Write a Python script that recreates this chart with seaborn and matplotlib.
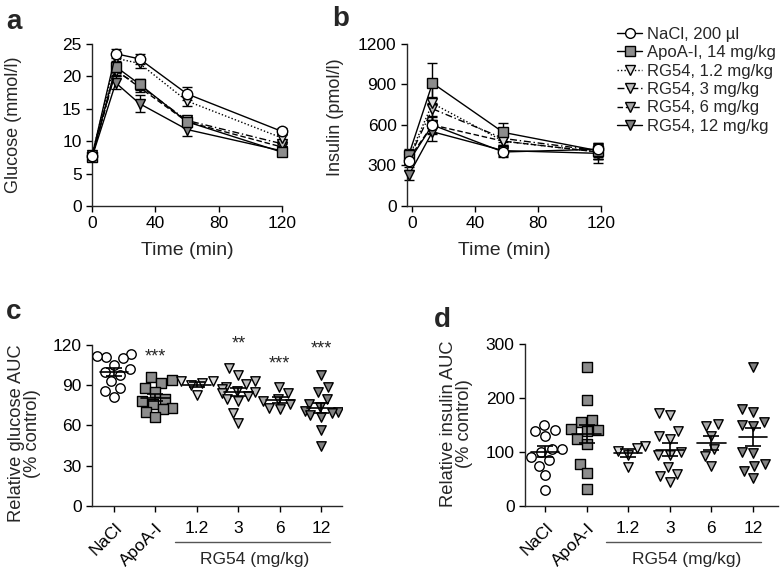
import numpy as np
import pandas as pd
import matplotlib
matplotlib.use("Agg")
import matplotlib.pyplot as plt
import matplotlib.transforms as mtransforms
import seaborn as sns

# --- panel a / b : time courses (mean, SEM) ---
series_names = ["NaCl, 200 µl", "ApoA-I, 14 mg/kg", "RG54, 1.2 mg/kg",
                "RG54, 3 mg/kg", "RG54, 6 mg/kg", "RG54, 12 mg/kg"]

glucose_time = [0, 15, 30, 60, 120]
glucose_nacl = [7.7, 23.5, 22.7, 17.3, 11.5]
glucose_apoa = [7.5, 21.5, 18.8, 13.0, 8.3]
glucose_rg1 = [7.8, 22.8, 22.0, 16.2, 10.5]
glucose_rg3 = [7.6, 20.8, 18.6, 13.2, 9.6]
glucose_rg6 = [7.6, 21.0, 18.3, 13.0, 9.1]
glucose_rg12 = [7.5, 19.0, 15.8, 11.8, 8.5]
glucose_sem_nacl = [0.4, 0.7, 0.8, 1.0, 0.5]
glucose_sem_apoa = [0.5, 0.9, 0.8, 0.8, 0.6]
glucose_sem_rg1 = [0.4, 0.8, 0.7, 0.7, 0.6]
glucose_sem_rg3 = [0.4, 0.8, 0.7, 0.6, 0.5]
glucose_sem_rg6 = [0.4, 0.8, 0.7, 0.6, 0.5]
glucose_sem_rg12 = [0.4, 1.0, 1.3, 1.0, 0.5]

insulin_time = [-2, 13, 58, 118]
insulin_nacl = [330, 600, 400, 420]
insulin_apoa = [380, 910, 545, 410]
insulin_rg1 = [360, 760, 480, 400]
insulin_rg3 = [350, 720, 500, 410]
insulin_rg6 = [350, 600, 480, 400]
insulin_rg12 = [230, 550, 410, 390]
insulin_sem_nacl = [40, 60, 40, 50]
insulin_sem_apoa = [40, 150, 70, 60]
insulin_sem_rg1 = [40, 120, 50, 50]
insulin_sem_rg3 = [40, 90, 50, 50]
insulin_sem_rg6 = [40, 70, 50, 50]
insulin_sem_rg12 = [40, 70, 40, 70]

# --- panel c / d : individual AUC values ---
groups = ["NaCl", "ApoA-I", "1.2", "3", "6", "12"]

gluc_auc_nacl = [113, 111, 112, 110, 105, 102, 100, 98, 93, 88, 86, 81]
gluc_auc_apoa = [96, 94, 92, 88, 85, 80, 78, 76, 73, 72, 70, 66]
gluc_auc_rg1 = [93, 92, 93, 90, 83]
gluc_auc_rg3 = [103, 98, 93, 91, 89, 87, 86, 85, 84, 82, 80, 78, 69, 62]
gluc_auc_rg6 = [89, 84, 80, 78, 76, 73, 72]
gluc_auc_rg12 = [98, 89, 85, 80, 76, 74, 71, 70, 69, 68, 66, 57, 45]

ins_auc_nacl = [150, 140, 138, 130, 105, 105, 100, 90, 85, 75, 58, 30]
ins_auc_apoa = [258, 197, 160, 155, 142, 140, 138, 125, 115, 78, 62, 32]
ins_auc_rg1 = [112, 108, 102, 95, 72]
ins_auc_rg3 = [172, 168, 138, 130, 125, 100, 95, 95, 72, 60, 55, 45]
ins_auc_rg6 = [152, 148, 130, 105, 92, 75]
ins_auc_rg12 = [258, 180, 175, 155, 150, 148, 100, 98, 78, 75, 65, 52]

gluc_stars = {"ApoA-I": ("***", 111), "3": ("**", 121), "6": ("***", 106), "12": ("***", 117)}

# styles
markers = ["o", "s", "v", "v", "v", "v"]
faces = ["white", "#8c8c8c", "#dcdcdc", "#bdbdbd", "#a6a6a6", "#808080"]
linestyles = ["-", "-", (0, (1, 1.5)), (0, (5, 2, 1, 2)), (0, (4, 2)), "-"]

sns.set_theme(style="ticks")
plt.rcParams["font.family"] = ["Liberation Sans", "DejaVu Sans"]
plt.rcParams["axes.linewidth"] = 1.0
plt.rcParams["xtick.major.width"] = 1.0
plt.rcParams["ytick.major.width"] = 1.0
plt.rcParams["xtick.major.size"] = 4.5
plt.rcParams["ytick.major.size"] = 4.5
plt.rcParams["xtick.color"] = "black"
plt.rcParams["ytick.color"] = "black"

fig = plt.figure(figsize=(7.81, 5.69), dpi=100)
ax_a = fig.add_axes([0.1178, 0.638, 0.2433, 0.2847])
ax_b = fig.add_axes([0.5211, 0.638, 0.2484, 0.2847])
ax_c = fig.add_axes([0.1178, 0.1107, 0.3201, 0.283])
ax_d = fig.add_axes([0.6722, 0.1107, 0.3239, 0.2847])


def time_panel(ax, t, means, sems):
    # draw in reverse so NaCl sits on top
    for i in reversed(range(len(means))):
        sns.lineplot(x=t, y=means[i], ax=ax, color="black", linewidth=1.0,
                     linestyle=linestyles[i], marker=markers[i], markersize=7.5,
                     markerfacecolor=faces[i], markeredgecolor="black",
                     markeredgewidth=1.0, zorder=3 + (len(means) - i))
        ax.errorbar(t, means[i], yerr=sems[i], fmt="none", ecolor="black",
                    elinewidth=1.0, capsize=3.5, capthick=1.0, zorder=2)
    for ln in ax.lines:
        ln.set_clip_on(False)
    sns.despine(ax=ax)
    ax.tick_params(labelsize=12.5, pad=3)


time_panel(ax_a, glucose_time,
           [glucose_nacl, glucose_apoa, glucose_rg1, glucose_rg3, glucose_rg6, glucose_rg12],
           [glucose_sem_nacl, glucose_sem_apoa, glucose_sem_rg1, glucose_sem_rg3,
            glucose_sem_rg6, glucose_sem_rg12])
ax_a.set_xlim(0, 120)
ax_a.set_ylim(0, 25)
ax_a.set_xticks([0, 40, 80, 120])
ax_a.set_yticks([0, 5, 10, 15, 20, 25])
ax_a.set_xlabel("Time (min)", fontsize=14)
ax_a.set_ylabel("Glucose (mmol/l)", fontsize=13)
ax_a.xaxis.set_label_coords(0.5, -0.225)
ax_a.yaxis.set_label_coords(-0.368, 0.5)

time_panel(ax_b, insulin_time,
           [insulin_nacl, insulin_apoa, insulin_rg1, insulin_rg3, insulin_rg6, insulin_rg12],
           [insulin_sem_nacl, insulin_sem_apoa, insulin_sem_rg1, insulin_sem_rg3,
            insulin_sem_rg6, insulin_sem_rg12])
ax_b.set_xlim(-3.2, 120)
ax_b.set_ylim(0, 1200)
ax_b.set_xticks([0, 40, 80, 120])
ax_b.set_yticks([0, 300, 600, 900, 1200])
ax_b.set_xlabel("Time (min)", fontsize=14)
ax_b.set_ylabel("Insulin (pmol/l)", fontsize=13)
ax_b.xaxis.set_label_coords(0.5, -0.225)
ax_b.yaxis.set_label_coords(-0.325, 0.55)

# legend
handles = []
for i, name in enumerate(series_names):
    h, = ax_b.plot([], [], color="black", linewidth=1.0, linestyle=linestyles[i],
                   marker=markers[i], markersize=7, markerfacecolor=faces[i],
                   markeredgecolor="black", label=name)
    handles.append(h)
fig.legend(handles=handles, loc="upper left", bbox_to_anchor=(617 / 781, 1 - 27 / 569),
           frameon=False, fontsize=12, handlelength=1.5, handletextpad=0.3,
           labelspacing=0.2, borderpad=0, borderaxespad=0)


def auc_panel(ax, values):
    for i, g in enumerate(groups):
        df = pd.DataFrame({"group": [g] * len(values[i]), "val": values[i]})
        sns.swarmplot(data=df, x="group", y="val", order=groups, ax=ax,
                      marker=markers[i], color=faces[i], edgecolor="black",
                      linewidth=1.0, size=6.8, zorder=3)
        m = np.mean(values[i])
        se = np.std(values[i], ddof=1) / np.sqrt(len(values[i]))
        ax.plot([i - 0.34, i + 0.34], [m, m], color="black", linewidth=1.2, zorder=4)
        ax.errorbar([i], [m], yerr=[se], fmt="none", ecolor="black", elinewidth=1.2,
                    capsize=5.5, capthick=1.2, zorder=4)
    ax.set_xlabel("")
    ax.set_xticks(range(len(groups)))
    ax.set_xticklabels(groups)
    for lbl in ax.get_xticklabels()[:2]:
        lbl.set_rotation(45)
        lbl.set_ha("right")
        lbl.set_rotation_mode("anchor")
    ax.tick_params(labelsize=12.5, pad=3)
    ax.tick_params(axis="x", pad=6)
    sns.despine(ax=ax)
    trans = mtransforms.blended_transform_factory(ax.transData, ax.transAxes)
    ax.plot([1.47, 5.2], [-0.225, -0.225], color="#555555", linewidth=1.0,
            transform=trans, clip_on=False)
    ax.text(3.4, -0.33, "RG54 (mg/kg)", transform=trans, ha="center", va="center",
            fontsize=12.5)


auc_panel(ax_c, [gluc_auc_nacl, gluc_auc_apoa, gluc_auc_rg1, gluc_auc_rg3,
                 gluc_auc_rg6, gluc_auc_rg12])
ax_c.set_xlim(-0.53, 5.5)
ax_c.set_ylim(0, 120)
ax_c.set_yticks([0, 30, 60, 90, 120])
ax_c.set_ylabel("Relative glucose AUC\n(% control)", fontsize=13.2, linespacing=0.9)
ax_c.yaxis.set_label_coords(-0.204, 0.45)
for g, (s, y) in gluc_stars.items():
    ax_c.text(groups.index(g), y, s, ha="center", va="center", fontsize=13, clip_on=False)

auc_panel(ax_d, [ins_auc_nacl, ins_auc_apoa, ins_auc_rg1, ins_auc_rg3,
                 ins_auc_rg6, ins_auc_rg12])
ax_d.set_xlim(-0.48, 5.6)
ax_d.set_ylim(0, 300)
ax_d.set_yticks([0, 100, 200, 300])
ax_d.set_ylabel("Relative insulin AUC\n(% control)", fontsize=13.2, linespacing=0.9)
ax_d.yaxis.set_label_coords(-0.206, 0.51)

# panel letters
fig.text(0.008, 0.985, "a", fontsize=20, fontweight="bold", va="top")
fig.text(0.425, 0.99, "b", fontsize=20, fontweight="bold", va="top")
fig.text(0.008, 0.475, "c", fontsize=20, fontweight="bold", va="top")
fig.text(0.556, 0.46, "d", fontsize=20, fontweight="bold", va="top")

fig.savefig("out.png", dpi=100)
